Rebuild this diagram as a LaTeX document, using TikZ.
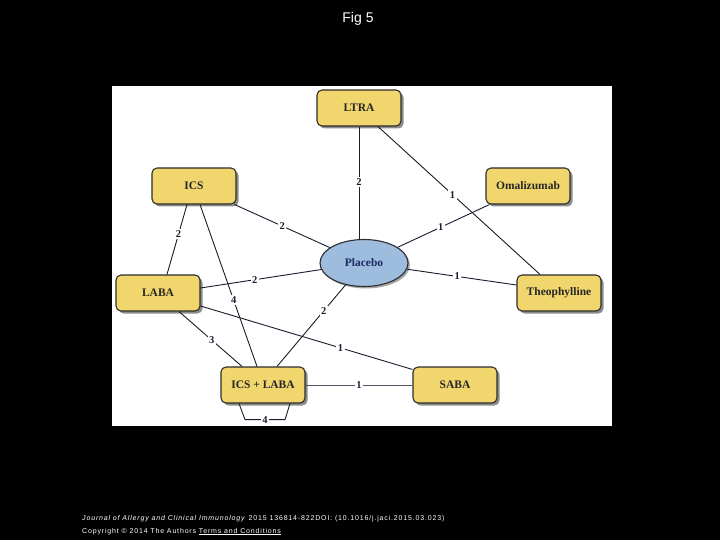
\documentclass[tikz,border=0pt]{standalone}
\usepackage{fontspec}
\setmainfont{Liberation Serif}
\newfontfamily\hdrfont{Liberation Sans}
\newfontfamily\footfont[LetterSpace=12]{Liberation Sans}
\usetikzlibrary{shadows,calc,shapes.geometric}
\definecolor{boxyellow}{RGB}{240,214,108}
\definecolor{boxborder}{RGB}{45,45,45}
\definecolor{ellfill}{RGB}{158,188,222}
\definecolor{plactext}{RGB}{28,44,96}
\definecolor{edgecol}{RGB}{25,28,45}
\begin{document}
\begin{tikzpicture}[x=1pt,y=-1pt,
  drug/.style={draw=boxborder, line width=1.1pt, fill=boxyellow, rounded corners=5pt,
    minimum width=84pt, minimum height=36pt, inner sep=0pt,
    font=\bfseries\fontsize{11.5}{12}\selectfont, text=black!85,
    drop shadow={shadow xshift=2.5pt, shadow yshift=-2.5pt, opacity=0.45, fill=black}},
  placebo/.style={draw=boxborder, line width=1.1pt, ellipse, fill=ellfill,
    minimum width=88pt, minimum height=47pt, inner sep=0pt,
    font=\bfseries\fontsize{11.5}{12}\selectfont, text=plactext,
    drop shadow={shadow xshift=2pt, shadow yshift=-2pt, opacity=0.35, fill=black}},
  edge/.style={draw=edgecol, line width=0.9pt},
  lbl/.style={fill=white, inner sep=1.5pt, font=\bfseries\fontsize{10.5}{10.5}\selectfont, text=edgecol},
  hdr/.style={text=white, inner sep=0pt}
]
\useasboundingbox (0,0) rectangle (720,540);
\fill[black] (0,0) rectangle (720,540);
\fill[white] (112,86) rectangle (612,426);

\node[hdr, font=\hdrfont\fontsize{14}{15}\selectfont] (title) at (358,19) {Fig 5};

% nodes
\node[drug] (ltra) at (359,108) {LTRA};
\node[drug] (ics) at (194,186) {ICS};
\node[drug] (omal) at (528,186) {Omalizumab};
\node[placebo] (plac) at (364,263) {Placebo};
\node[drug] (laba) at (158,293) {LABA};
\node[drug] (theo) at (559,293) {Theophylline};
\node[drug] (icl) at (263,385) {ICS + LABA};
\node[drug] (saba) at (455,385) {SABA};

% edges
\draw[edge] (ltra.south) -- node[lbl, pos=0.49]{2} ($(ltra.south |- plac.north)+(0,1)$);
\draw[edge] ($(ltra.south)+(19,0)$) -- node[lbl, pos=0.46]{1} ($(theo.north)+(-19,0)$);
\draw[edge] ($(omal.south west)+(4,0)$) -- node[lbl, pos=0.53]{1} (plac);
\draw[edge] ($(ics.south east)+(-2,0)$) -- node[lbl, pos=0.5]{2} (plac);
\draw[edge] ($(ics.south)+(-7,0)$) -- node[lbl, pos=0.42]{2} ($(laba.north)+(9,0)$);
\draw[edge] ($(ics.south)+(6,0)$) -- node[lbl, pos=0.59]{4} ($(icl.north)+(-6,0)$);
\draw[edge] ($(laba.east)+(0,-5)$) -- node[lbl, pos=0.45]{2} (plac);
\draw[edge] (plac) -- node[lbl, pos=0.46]{1} ($(theo.west)+(0,-8)$);
\draw[edge] ($(laba.south)+(21,0)$) -- node[lbl, pos=0.52]{3} ($(icl.north)+(-21,0)$);
\draw[edge] ($(laba.east)+(0,13)$) -- node[lbl, pos=0.66]{1} ($(saba.north west)+(0,3)$);
\draw[edge] ($(icl.north)+(14,0)$) -- node[lbl, pos=0.68]{2} (plac);
\draw[edge, draw=edgecol!75] (icl.east) -- node[lbl, pos=0.5]{1} (saba.west);
\draw[edge] ($(icl.south)+(-24,0)$) -- ($(icl.south)+(-18,16)$) -- node[lbl, pos=0.5]{4} ($(icl.south)+(22,16)$) -- ($(icl.south)+(27,0)$);

% footer
\node[hdr, anchor=base west, font=\footfont\fontsize{7}{8}\selectfont] (ref) at (82,520)
  {\textit{Journal of Allergy and Clinical Immunology} 2015 136814-822DOI: (10.1016/j.jaci.2015.03.023)};
\node[hdr, anchor=base west, font=\footfont\fontsize{7}{8}\selectfont] (copy) at (82,533)
  {Copyright © 2014 The Authors \underline{Terms and Conditions}};
\end{tikzpicture}
\end{document}
